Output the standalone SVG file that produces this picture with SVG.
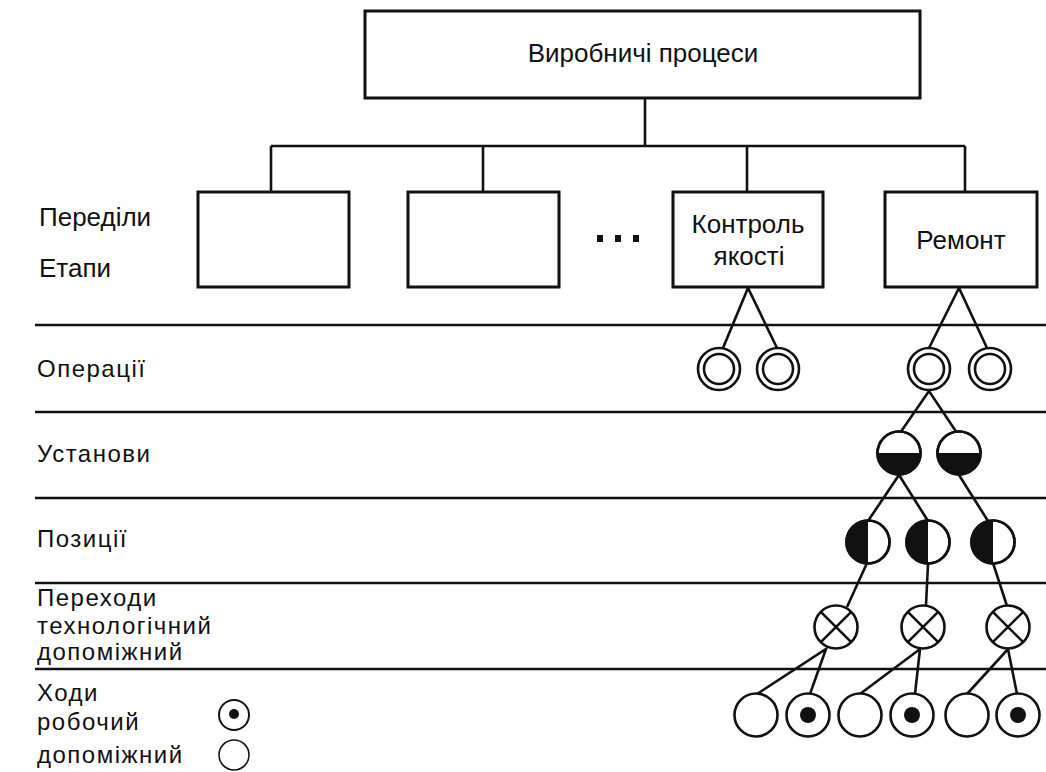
<svg xmlns="http://www.w3.org/2000/svg" width="1046" height="772" viewBox="0 0 1046 772">
<style>
.box{fill:#fff;stroke:#111;stroke-width:3}
.ln{stroke:#111;stroke-width:2.6;fill:none}
.sep{stroke:#111;stroke-width:2.6}
.c{fill:#fff;stroke:#111;stroke-width:2.6}
.t{font-family:"Liberation Sans",Arial,sans-serif;font-size:26px;fill:#111}
.lb{font-family:"Liberation Sans",Arial,sans-serif;font-size:24px;fill:#111;letter-spacing:1.5px}
.f{fill:#111}
</style>
<defs>
<g id="op"><circle r="21" class="c"/><circle r="15" class="c"/></g>
<g id="ust"><circle r="21.5" class="c"/><path d="M-21.5,0 A21.5,21.5 0 0 0 21.5,0 Z" class="f"/><circle r="21.5" fill="none" stroke="#111" stroke-width="2.6"/></g>
<g id="poz"><circle r="21.5" class="c"/><path d="M0,-21.5 A21.5,21.5 0 0 0 0,21.5 Z" class="f"/><circle r="21.5" fill="none" stroke="#111" stroke-width="2.6"/></g>
<g id="per"><circle r="21.5" class="c"/><path d="M-15.2,-15.2 L15.2,15.2 M15.2,-15.2 L-15.2,15.2" class="ln"/></g>
<g id="hd"><circle r="21.5" class="c"/></g>
<g id="hw"><circle r="21.5" class="c"/><circle r="8" class="f"/></g>
</defs>
<rect width="1046" height="772" fill="#fff"/>

<g id="separators">
<line x1="35" y1="325" x2="1046" y2="325" class="sep"/>
<line x1="35" y1="412" x2="1046" y2="412" class="sep"/>
<line x1="35" y1="498" x2="1046" y2="498" class="sep"/>
<line x1="35" y1="583" x2="1046" y2="583" class="sep"/>
<line x1="35" y1="669" x2="1046" y2="669" class="sep"/>
</g>

<g id="connectors">
<path d="M645,98 V146 M271,146 H965 M271,146 V192 M483,146 V192 M747,146 V192 M965,146 V192" class="ln"/>
<path d="M723,348 L748,288 L777,348 M929,348 L959,288 L987,348" class="ln"/>
<path d="M900,433 L929,391 L957,433" class="ln"/>
<path d="M868,521 L899,475 L928,521 M959,475 L988,521" class="ln"/>
<path d="M867,563 L847,607 M928,564 L926,605 M993,563 L1007,606" class="ln"/>
<path d="M757,694 L826,649 L810,694 M860,694 L920,649 L915,694 M967,694 L1008,649 L1017,694" class="ln"/>
</g>

<g id="n-top"><rect x="365" y="11" width="555" height="87" class="box"/><text x="643" y="62" text-anchor="middle" class="t" font-size="27">Виробничі процеси</text></g>
<g id="n-b1"><rect x="198" y="192" width="151" height="95" class="box"/></g>
<g id="n-b2"><rect x="408" y="192" width="151" height="95" class="box"/></g>
<g id="n-dots"><rect x="597" y="235" width="6" height="7" class="f"/><rect x="615" y="235" width="6" height="7" class="f"/><rect x="633" y="235" width="6" height="7" class="f"/></g>
<g id="n-kontrol"><rect x="673" y="192" width="150" height="95" class="box"/><text x="748" y="233" text-anchor="middle" class="t">Контроль</text><text x="749" y="265" text-anchor="middle" class="t">якості</text></g>
<g id="n-remont"><rect x="885" y="192" width="152" height="95" class="box"/><text x="961" y="249" text-anchor="middle" class="t">Ремонт</text></g>

<g id="labels">
<text x="39" y="226" class="t">Переділи</text>
<text x="39" y="277" class="t">Етапи</text>
<text x="37" y="377" class="lb">Операції</text>
<text x="37" y="462" class="lb">Установи</text>
<text x="37" y="547" class="lb">Позиції</text>
<text x="37" y="606" class="lb">Переходи</text>
<text x="37" y="634" class="lb">технологічний</text>
<text x="37" y="660" class="lb">допоміжний</text>
<text x="37" y="701" class="lb">Ходи</text>
<text x="37" y="730" class="lb">робочий</text>
<text x="37" y="763" class="lb">допоміжний</text>
</g>

<g id="n-op1"><use href="#op" x="719" y="369"/></g>
<g id="n-op2"><use href="#op" x="778" y="369"/></g>
<g id="n-op3"><use href="#op" x="929" y="369"/></g>
<g id="n-op4"><use href="#op" x="990" y="369"/></g>
<g id="n-ust1"><use href="#ust" x="899" y="453"/></g>
<g id="n-ust2"><use href="#ust" x="959" y="453"/></g>
<g id="n-poz1"><use href="#poz" x="868" y="542"/></g>
<g id="n-poz2"><use href="#poz" x="928" y="542"/></g>
<g id="n-poz3"><use href="#poz" x="993" y="542"/></g>
<g id="n-per1"><use href="#per" x="836" y="627"/></g>
<g id="n-per2"><use href="#per" x="923" y="627"/></g>
<g id="n-per3"><use href="#per" x="1008" y="627"/></g>
<g id="n-h1"><use href="#hd" x="756" y="715"/></g>
<g id="n-h2"><use href="#hw" x="808" y="715"/></g>
<g id="n-h3"><use href="#hd" x="860" y="715"/></g>
<g id="n-h4"><use href="#hw" x="912" y="715"/></g>
<g id="n-h5"><use href="#hd" x="967" y="715"/></g>
<g id="n-h6"><use href="#hw" x="1018" y="715"/></g>

<g id="legend">
<circle cx="234" cy="715" r="15" fill="#fff" stroke="#111" stroke-width="2"/>
<circle cx="234" cy="714" r="5" class="f"/>
<circle cx="234" cy="755" r="15" fill="#fff" stroke="#111" stroke-width="1.6"/>
</g>
</svg>
